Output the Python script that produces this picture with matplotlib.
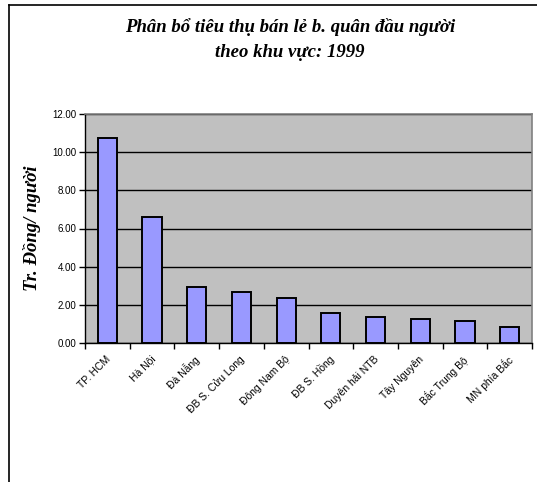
import matplotlib
matplotlib.use("Agg")
import matplotlib.pyplot as plt
from matplotlib.lines import Line2D

categories = ["TP. HCM", "Hà Nội", "Đà Nẵng", "ĐB S. Cửu Long", "Đông Nam Bộ",
              "ĐB S. Hồng", "Duyên hải NTB", "Tây Nguyên", "Bắc Trung Bộ", "MN phía Bắc"]
values = [10.75, 6.61, 2.93, 2.65, 2.37, 1.56, 1.38, 1.26, 1.17, 0.82]
yticks = [0, 2, 4, 6, 8, 10, 12]

W, H = 537, 482
fig = plt.figure(figsize=(W / 100, H / 100), dpi=100)
fig.patch.set_facecolor("white")

# outer chart frame (left and top edges visible)
fig.lines.append(Line2D([8.5 / W, 8.5 / W], [0, 1 - 4.5 / H], transform=fig.transFigure,
                        color="black", linewidth=1.2))
fig.lines.append(Line2D([8.5 / W, 1], [1 - 4.5 / H, 1 - 4.5 / H], transform=fig.transFigure,
                        color="black", linewidth=1.2))

left, right, top, bottom = 85, 532, 114, 343
ax = fig.add_axes([left / W, (H - bottom) / H, (right - left) / W, (bottom - top) / H])
ax.set_facecolor("#C0C0C0")

x = list(range(len(categories)))
ax.bar(x, values, width=0.43, color="#9999FF", edgecolor="black", linewidth=1.4, zorder=3)
ax.set_xlim(-0.5, len(categories) - 0.5)
ax.set_ylim(0, 12)
ax.set_yticks(yticks)
ax.set_yticklabels([f"{v:.2f}" for v in yticks], fontsize=7, family="Liberation Sans")
ax.yaxis.grid(True, color="black", linewidth=1.0, zorder=1)
ax.set_axisbelow(True)

ax.set_xticks([i + 0.5 for i in range(-1, len(categories))])
ax.set_xticklabels([])
ax.tick_params(axis="both", direction="out", length=4, width=1, color="black", pad=2)

for s in ["top", "right"]:
    ax.spines[s].set_color("#808080")
    ax.spines[s].set_linewidth(1.2)
for s in ["left", "bottom"]:
    ax.spines[s].set_color("black")
    ax.spines[s].set_linewidth(1.0)

for i, lab in enumerate(categories):
    ax.annotate(lab, xy=(i, 0), xycoords="data", xytext=(4, -8), textcoords="offset points",
                rotation=45, ha="right", va="top", fontsize=7.5, family="Liberation Sans",
                annotation_clip=False)

fig.text(290 / W, 1 - 27 / H, "Phân bổ tiêu thụ bán lẻ b. quân đầu người",
         ha="center", va="center", fontsize=13.5, fontweight="bold", fontstyle="italic",
         family="Liberation Serif")
fig.text(290 / W, 1 - 52 / H, "theo khu vực: 1999",
         ha="center", va="center", fontsize=13.5, fontweight="bold", fontstyle="italic",
         family="Liberation Serif")
fig.text(32 / W, 1 - 228 / H, "Tr. Đồng/ người", rotation=90,
         ha="center", va="center", fontsize=13.5, fontweight="bold", fontstyle="italic",
         family="Liberation Serif")

fig.savefig("out.png", dpi=100)
